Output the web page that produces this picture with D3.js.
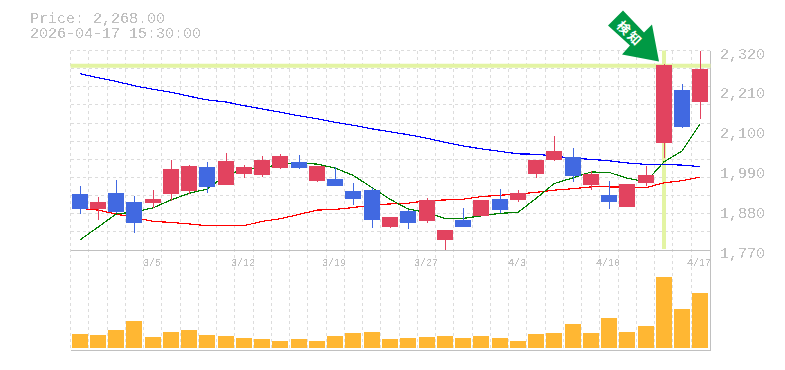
<!DOCTYPE html>
<meta charset="utf-8">
<style>
  body { margin: 0; background: #fff; }
  text { font-family: "Liberation Mono", monospace; fill: #c0c0c0; }
  .pixel { filter: url(#hardEdge); }
</style>
<script src="https://d3js.org/d3.v7.min.js"></script>

<svg id="chart" width="785" height="370">
  <!-- old chart images have no text smoothing, so cut the alpha hard -->
  <filter id="hardEdge" x="0" y="0" width="100%" height="100%">
    <feComponentTransfer>
      <feFuncA type="discrete" tableValues="0 0 1 1"></feFuncA>
    </feComponentTransfer>
  </filter>
</svg>

<script>
    // Chart values
    var priceLabel = "Price: 2,268.00";
    var timeLabel = "2026-04-17 15:30:00";

    var dates = ["3/5", "3/12", "3/19", "3/27", "4/3", "4/10", "4/17"];
    var dateIndex = [4, 9, 14, 19, 24, 29, 34];
    var priceTicks = [1770, 1880, 1990, 2100, 2210, 2320];
    var priceGrid = d3.range(1770, 2321, 50);

    var open  = [1924, 1883, 1927, 1902, 1899, 1924, 1932, 1998, 1949, 1979, 1976, 1996, 2012, 1960, 1965, 1932, 1935, 1833, 1877, 1850, 1798, 1853, 1864, 1910, 1908, 1979, 2018, 2026, 1949, 1921, 1888, 1954, 2064, 2210, 2177];
    var high  = [1946, 1916, 1963, 1919, 1935, 2018, 2004, 2012, 2037, 2004, 2029, 2034, 2031, 2001, 1998, 1954, 1941, 1861, 1880, 1913, 1825, 1886, 1908, 1938, 1935, 2018, 2084, 2051, 1987, 1960, 1952, 2001, 2284, 2227, 2320];
    var low   = [1869, 1853, 1872, 1817, 1886, 1905, 1924, 1927, 1949, 1968, 1971, 1993, 1993, 1957, 1946, 1894, 1831, 1831, 1828, 1844, 1770, 1833, 1864, 1872, 1902, 1968, 2015, 1957, 1935, 1883, 1888, 1946, 2023, 2106, 2130];
    var close = [1883, 1902, 1875, 1844, 1910, 1993, 2001, 1943, 2015, 1998, 2018, 2029, 1996, 2001, 1946, 1910, 1853, 1861, 1844, 1908, 1825, 1833, 1908, 1880, 1927, 2018, 2042, 1974, 1979, 1902, 1952, 1976, 2279, 2108, 2270];

    var maShort = [1798, 1833, 1869, 1875, 1886, 1908, 1926, 1938, 1976, 1993, 1996, 2007, 2009, 2007, 1996, 1976, 1942, 1910, 1883, 1873, 1857, 1857, 1864, 1871, 1874, 1912, 1953, 1969, 1985, 1984, 1968, 1958, 2013, 2043, 2117];
    var maMid   = [1885, 1880, 1869, 1860, 1849, 1846, 1842, 1837, 1837, 1837, 1849, 1856, 1868, 1880, 1882, 1887, 1894, 1897, 1899, 1906, 1908, 1910, 1917, 1921, 1924, 1929, 1935, 1939, 1944, 1944, 1943, 1942, 1955, 1961, 1971];
    var maLong  = [2256, 2245, 2235, 2223, 2213, 2205, 2194, 2184, 2178, 2168, 2159, 2150, 2140, 2132, 2122, 2114, 2104, 2096, 2088, 2078, 2067, 2057, 2049, 2042, 2035, 2034, 2029, 2023, 2020, 2016, 2010, 2006, 2006, 2004, 2000];

    var volume = [14, 13, 18, 27, 11, 16, 18, 13, 12, 10, 9, 7, 9, 7, 12, 15, 16, 9, 10, 11, 12, 10, 12, 10, 7, 14, 15, 24, 15, 30, 16, 22, 71, 39, 55];

    var resistance = 2278;
    var signalIndex = 32;

    var svg = d3.select("#chart");
    var left = 70.5, right = 709.5;

    var x = d3.scaleBand().domain(d3.range(open.length)).range([left, right]).padding(0);
    var y = d3.scaleLinear().domain([1770, 2320]).range([250, 50.5]);
    var yVol = d3.scaleLinear().domain([0, 71]).range([348, 277]);

    function cx(i) { return Math.round(x(i) + x.bandwidth() / 2); }

    // grid
    var grid = svg.append("g")
        .attr("stroke", "#dcdcdc")
        .attr("stroke-dasharray", "3,3")
        .attr("shape-rendering", "crispEdges");

    grid.selectAll(".h").data(priceGrid.slice(1)).enter().append("line")
        .attr("x1", left).attr("x2", right)
        .attr("y1", function(d){ return y(d) }).attr("y2", function(d){ return y(d) });

    grid.selectAll(".v").data(d3.range(open.length)).enter().append("line")
        .attr("x1", function(d){ return x(d) }).attr("x2", function(d){ return x(d) })
        .attr("y1", y(2320)).attr("y2", 350);

    // frame lines
    var frame = svg.append("g").attr("stroke", "#c0c0c0").attr("shape-rendering", "crispEdges");
    frame.append("line").attr("x1", left).attr("x2", right + 1).attr("y1", 250).attr("y2", 250);
    frame.append("line").attr("x1", left).attr("x2", right + 1).attr("y1", 350).attr("y2", 350);
    frame.append("line").attr("x1", right + 1).attr("x2", right + 1).attr("y1", y(2320)).attr("y2", 350);

    // signal lines
    svg.append("line")
        .attr("x1", left).attr("x2", right + 1)
        .attr("y1", y(resistance)).attr("y2", y(resistance))
        .attr("stroke", "#e3f4a3").attr("stroke-width", 4);
    svg.append("line")
        .attr("x1", cx(signalIndex)).attr("x2", cx(signalIndex))
        .attr("y1", y(2320)).attr("y2", 249)
        .attr("stroke", "#e3f4a3").attr("stroke-width", 4);

    // volume
    svg.selectAll(".vol").data(volume).enter().append("rect")
        .attr("x", function(d, i){ return cx(i) - 8 })
        .attr("width", 16)
        .attr("y", function(d){ return yVol(d) })
        .attr("height", function(d){ return yVol(0) - yVol(d) })
        .attr("fill", "#ffb733");

    // moving averages, the candles cover them
    var line = d3.line()
        .x(function(d, i){ return cx(i) })
        .y(function(d){ return y(d) });

    [[maLong, "#0000ff"], [maMid, "#ff0000"], [maShort, "#008000"]].forEach(function(s){
        svg.append("path")
            .attr("d", line(s[0]))
            .attr("fill", "none")
            .attr("stroke", s[1])
            .attr("stroke-width", 1.2)
            .attr("shape-rendering", "crispEdges");
    });

    // candles
    function colour(i) { return close[i] >= open[i] ? "#e2435f" : "#4169e1"; }

    svg.selectAll(".wick").data(d3.range(open.length)).enter().append("line")
        .attr("x1", function(i){ return cx(i) + 0.5 }).attr("x2", function(i){ return cx(i) + 0.5 })
        .attr("y1", function(i){ return y(high[i]) }).attr("y2", function(i){ return y(low[i]) })
        .attr("stroke", colour)
        .attr("shape-rendering", "crispEdges");

    svg.selectAll(".body").data(d3.range(open.length)).enter().append("rect")
        .attr("x", function(i){ return cx(i) - 8 })
        .attr("width", 16)
        .attr("y", function(i){ return Math.round(y(Math.max(open[i], close[i]))) })
        .attr("height", function(i){ return Math.abs(Math.round(y(open[i])) - Math.round(y(close[i]))) })
        .attr("fill", colour);

    // arrow pointing at the signal candle
    var tipX = cx(signalIndex) - 5, tipY = y(high[signalIndex]) - 2;
    var arrow = svg.append("g").attr("transform", "translate(" + tipX + "," + tipY + ")");
    arrow.append("path")
        .attr("d", "M-36,-51 L-15,-29 L-7,-37 L0,0 L-37,-7 L-29,-16 L-51,-36 Z")
        .attr("fill", "#009944");
    arrow.append("text")
        .attr("transform", "translate(-29,-28) rotate(45)")
        .attr("text-anchor", "middle")
        .attr("dy", 5)
        .style("font-family", "'Noto Sans CJK JP'")
        .style("font-size", "13px")
        .style("font-weight", "bold")
        .style("letter-spacing", "2px")
        .style("fill", "#fff")
        .text("検知");

    // texts
    var labels = svg.append("g").attr("class", "pixel");
    labels.append("text").attr("x", 30).attr("y", 23).style("font-size", "15px").text(priceLabel);
    labels.append("text").attr("x", 30).attr("y", 38).style("font-size", "15px").text(timeLabel);

    labels.selectAll(".ptick").data(priceTicks).enter().append("text")
        .attr("x", 720)
        .attr("y", function(d){ return y(d) + 8 })
        .style("font-size", "15px")
        .text(d3.format(","));

    // x labels get cut at the right edge of the plot
    svg.append("clipPath").attr("id", "xclip").append("rect")
        .attr("x", 0).attr("y", 250).attr("width", 711).attr("height", 30);

    labels.append("g").attr("clip-path", "url(#xclip)")
        .selectAll("text").data(dates).enter().append("text")
        .attr("x", function(d, i){ return cx(dateIndex[i]) - 1 })
        .attr("y", 266)
        .attr("text-anchor", "middle")
        .style("font-size", "10px")
        .text(function(d){ return d });
</script>
